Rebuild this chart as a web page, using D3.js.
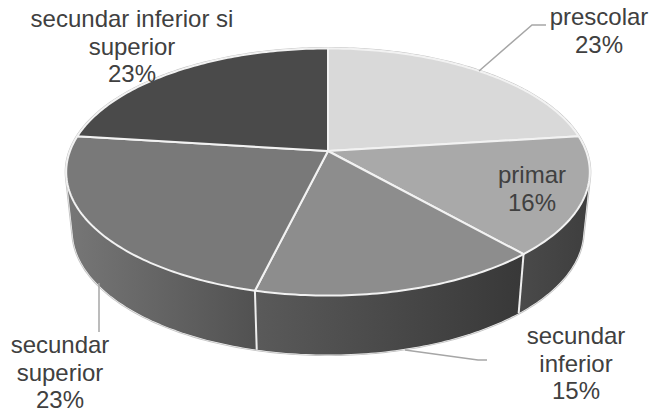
<!DOCTYPE html>
<html><head><meta charset="utf-8">
<script src="https://cdn.jsdelivr.net/npm/d3@7"></script>
<style>html,body{margin:0;padding:0;background:#fff}svg{display:block}</style>
</head><body><svg id="c" width="650" height="413"></svg>
<script>
const categories = ["prescolar","primar","secundar inferior","secundar superior","secundar inferior si superior"];
const shares = [23,15.5,15.3,23.2,23];
const labelLines = [["prescolar","23%"],["primar","16%"],["secundar","inferior","15%"],["secundar","superior","23%"],["secundar inferior si","superior","23%"]];
const topColors = ["#d9d9d9","#a9a9a9","#8d8d8d","#797979","#4a4a4a"];
const wallLeft = ["#999","#4a4a4a","#5a5a5a","#777777","#333"];
const wallRight = ["#999","#3e3e3e","#383838","#515151","#333"];
const labelAnchors = [[599,25],[532,183],[576,344],[60,353],[132,27]];
const leaders = [[[479,71],[532,25],[546,25]],null,[[405,350],[478,360],[487,360]],[[99,283],[99,332]],null];

const svg = d3.select("#c");
const cx=328, cy=151, A=258, B=120, k=0.17, depth=59, baseScale=0.975, lineStep=27.5;
function proj(a,r=1,base=false){
  const u=r*Math.sin(a), v=-r*Math.cos(a), w=1-k*v;
  const s=base?baseScale:1;
  return [cx+s*A*u/w, cy+B*v/w+(base?depth:0)];
}
const arcs=d3.pie().sort(null).value(d=>d)(shares);
const line=d3.line();
const defs=svg.append("defs");
const angles=(a0,a1)=>{const n=Math.max(2,Math.ceil((a1-a0)*60));return d3.range(n+1).map(i=>a0+(a1-a0)*i/n);};
const sweep=(a0,a1,base)=>angles(a0,a1).map(a=>proj(a,1,base));
const bothEnds=(a0,a1)=>sweep(a0,a1,false).concat(sweep(a0,a1,true));

// silhouette of the whole drum
const drum=d3.polygonHull(bothEnds(0,2*Math.PI));
svg.append("path").attr("d",line(drum)+"Z").attr("fill","#f2f2f2").attr("stroke","#c4c4c4").attr("stroke-width",3);
svg.append("path").attr("d",line(drum)+"Z").attr("fill","#f2f2f2").attr("stroke","#f2f2f2").attr("stroke-width",1.2);

// walls
arcs.forEach((d,i)=>{
  const all=bothEnds(d.startAngle,d.endAngle);
  const xs=all.map(p=>p[0]);
  const g=defs.append("linearGradient").attr("id","w"+i).attr("gradientUnits","userSpaceOnUse")
    .attr("x1",d3.min(xs)).attr("x2",d3.max(xs)).attr("y1",0).attr("y2",0);
  g.append("stop").attr("offset",0).attr("stop-color",wallLeft[i]);
  g.append("stop").attr("offset",1).attr("stop-color",wallRight[i]);
  svg.append("path").attr("d",line(d3.polygonHull(all))+"Z").attr("fill",`url(#w${i})`);
});
// separators on the wall
arcs.forEach(d=>{
  svg.append("path").attr("d",line([proj(d.startAngle),proj(d.startAngle,1,true)]))
    .attr("stroke","#eeeeee").attr("stroke-width",2).attr("fill","none");
});

// top faces
arcs.forEach((d,i)=>{
  const pts=[proj(0,0)].concat(sweep(d.startAngle,d.endAngle,false));
  svg.append("path").attr("d",line(pts)+"Z").attr("fill",topColors[i])
    .attr("stroke","#f2f2f2").attr("stroke-width",2).attr("stroke-linejoin","round");
});

leaders.forEach(l=>{ if(l) svg.append("path").attr("d",line(l)).attr("fill","none").attr("stroke","#a6a6a6").attr("stroke-width",1.5); });

labelLines.forEach((lines,i)=>{
  const t=svg.append("text").attr("text-anchor","middle")
    .attr("font-family","'Liberation Sans',Arial,sans-serif").attr("font-size",24).attr("fill","#404040");
  lines.forEach((s,j)=>t.append("tspan").attr("x",labelAnchors[i][0]).attr("y",labelAnchors[i][1]+j*lineStep).text(s));
});
</script></body></html>
